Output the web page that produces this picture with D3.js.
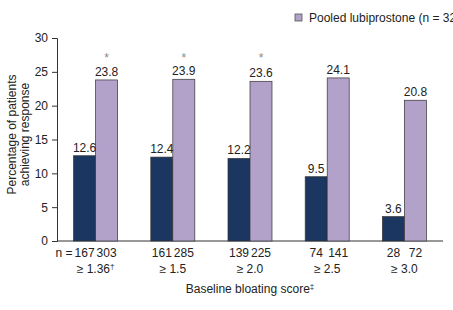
<!DOCTYPE html>
<html>
<head>
<script src="https://d3js.org/d3.v7.min.js"></script>
<style>
  body { margin: 0; background: #fff; }
  svg { font-family: "Liberation Sans", Arial, sans-serif; display: block; }
</style>
</head>
<body>
<div id="chart"></div>
<script>
// data
const groups = ["≥ 1.36", "≥ 1.5", "≥ 2.0", "≥ 2.5", "≥ 3.0"];
const groupMarks = ["†", "", "", "", ""];
const seriesNames = ["Placebo", "Pooled lubiprostone"];
const placeboValues = [12.6, 12.4, 12.2, 9.5, 3.6];
const lubiValues = [23.8, 23.9, 23.6, 24.1, 20.8];
const placeboN = [167, 161, 139, 74, 28];
const lubiN = [303, 285, 225, 141, 72];
const significant = [true, true, true, false, false];
const yTicks = [0, 5, 10, 15, 20, 25, 30];

const width = 453, height = 310;
const margin = { top: 38, right: 10, bottom: 69, left: 57 };
const colors = ["#1b3660", "#b2a1c9"];
const fs = 12;

const svg = d3.select("#chart").append("svg")
  .attr("width", width)
  .attr("height", height);

const x = d3.scaleBand()
  .domain(groups)
  .range([margin.left, width - margin.right])
  .paddingInner(0.43)
  .paddingOuter(0.215);

const xSub = d3.scaleBand()
  .domain(seriesNames)
  .range([0, x.bandwidth()]);

const y = d3.scaleLinear()
  .domain([0, 30])
  .range([height - margin.bottom, margin.top]);

// y axis
const yAxis = svg.append("g")
  .attr("transform", `translate(${margin.left},0)`)
  .call(d3.axisLeft(y).tickValues(yTicks).tickSize(5).tickPadding(4));
yAxis.select(".domain").attr("stroke", "#333");
yAxis.selectAll(".tick line").attr("stroke", "#333");
yAxis.selectAll(".tick text").attr("font-size", fs).attr("fill", "#222")
  .attr("font-family", "Liberation Sans, Arial, sans-serif");

// x axis line
svg.append("line")
  .attr("x1", margin.left).attr("x2", width - margin.right)
  .attr("y1", y(0)).attr("y2", y(0))
  .attr("stroke", "#333");

const rows = groups.map((g, i) => ({
  group: g,
  mark: groupMarks[i],
  vals: [placeboValues[i], lubiValues[i]],
  ns: [placeboN[i], lubiN[i]],
  sig: significant[i]
}));

const gs = svg.selectAll(".grp").data(rows).enter().append("g")
  .attr("transform", d => `translate(${x(d.group)},0)`);

gs.selectAll("rect")
  .data(d => d.vals.map((v, k) => ({ v, k })))
  .enter().append("rect")
  .attr("x", d => xSub(seriesNames[d.k]))
  .attr("y", d => y(d.v))
  .attr("width", xSub.bandwidth())
  .attr("height", d => y(0) - y(d.v))
  .attr("fill", d => colors[d.k])
  .attr("stroke", "#333")
  .attr("stroke-width", 0.7);

// value labels
gs.selectAll(".val")
  .data(d => d.vals.map((v, k) => ({ v, k })))
  .enter().append("text")
  .attr("x", d => xSub(seriesNames[d.k]) + xSub.bandwidth() / 2)
  .attr("y", d => y(d.v) - 4)
  .attr("text-anchor", "middle")
  .attr("font-size", fs)
  .attr("fill", "#222")
  .text(d => d.v.toFixed(1));

// asterisks
gs.filter(d => d.sig).append("text")
  .attr("x", xSub(seriesNames[1]) + xSub.bandwidth() / 2)
  .attr("y", y(27.2) + 5)
  .attr("text-anchor", "middle")
  .attr("font-size", 12)
  .attr("fill", "#888")
  .text("*");

// n labels
gs.selectAll(".n")
  .data(d => d.ns.map((n, k) => ({ n, k })))
  .enter().append("text")
  .attr("x", d => xSub(seriesNames[d.k]) + xSub.bandwidth() / 2)
  .attr("y", y(0) + 16)
  .attr("text-anchor", "middle")
  .attr("font-size", fs)
  .attr("fill", "#222")
  .text(d => d.n);

svg.append("text")
  .attr("x", x(groups[0]) - 1)
  .attr("y", y(0) + 16)
  .attr("text-anchor", "end")
  .attr("font-size", fs)
  .attr("fill", "#222")
  .text("n =");

// group labels
const gl = gs.append("text")
  .attr("x", x.bandwidth() / 2)
  .attr("y", y(0) + 32)
  .attr("text-anchor", "middle")
  .attr("font-size", fs)
  .attr("fill", "#222");
gl.append("tspan").text(d => d.group);
gl.append("tspan").attr("font-size", 8).attr("dy", -4).text(d => d.mark);

// x title
const xt = svg.append("text")
  .attr("x", (margin.left + width - margin.right) / 2)
  .attr("y", y(0) + 52)
  .attr("text-anchor", "middle")
  .attr("font-size", fs)
  .attr("fill", "#222");
xt.append("tspan").text("Baseline bloating score");
xt.append("tspan").attr("font-size", 8).attr("dy", -4).text("‡");

// y title
const yt = svg.append("text")
  .attr("transform", `translate(16,${(y(0) + y(30)) / 2 - 5}) rotate(-90)`)
  .attr("text-anchor", "middle")
  .attr("font-size", fs)
  .attr("fill", "#222");
yt.append("tspan").attr("x", 0).attr("dy", 0).text("Percentage of patients");
yt.append("tspan").attr("x", 0).attr("dy", 13).text("achieving response");

// legend
const lg = svg.append("g").attr("transform", "translate(295,14)");
lg.append("rect")
  .attr("width", 7).attr("height", 7)
  .attr("fill", colors[1]).attr("stroke", "#555").attr("stroke-width", 0.8);
lg.append("text")
  .attr("x", 14).attr("y", 8)
  .attr("font-size", fs)
  .attr("fill", "#222")
  .text("Pooled lubiprostone (n = 325)");
</script>
</body>
</html>
